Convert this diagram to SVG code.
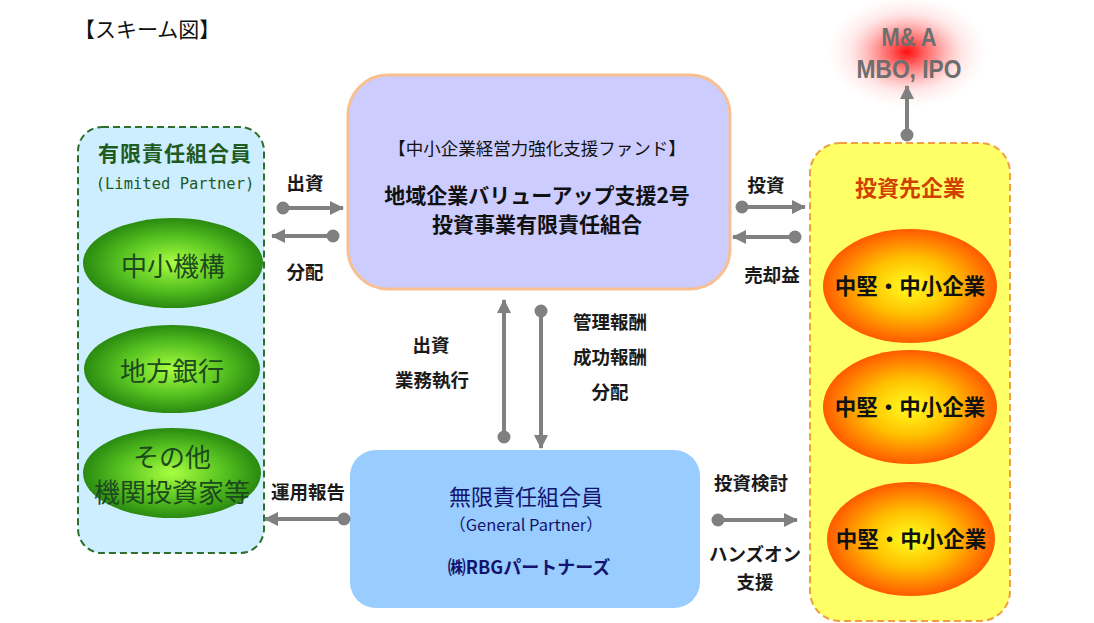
<svg xmlns="http://www.w3.org/2000/svg" width="1094" height="623" viewBox="0 0 1094 623">
<defs>
<style>
.jp{font-family:"Noto Sans CJK JP","Noto Sans",sans-serif}
.lbl{font-family:"Noto Sans CJK JP",sans-serif;font-size:18.5px;font-weight:bold;fill:#1a1a1a;text-anchor:middle}
.con{stroke:#808080;stroke-width:4;fill:none}
.g{font-family:"Noto Sans CJK JP",sans-serif;font-size:26px;fill:#1d4a1d;text-anchor:middle}
.o{font-family:"Noto Sans CJK JP",sans-serif;font-size:21.5px;font-weight:bold;fill:#111;text-anchor:middle}
.n{font-family:"Noto Sans CJK JP",sans-serif;fill:#14146e;text-anchor:middle}
</style>
<marker id="ah" markerUnits="userSpaceOnUse" markerWidth="16" markerHeight="14" refX="13" refY="7" orient="auto">
<path d="M0,0 L14,7 L0,14 Z" fill="#808080"/>
</marker>
<marker id="dot" markerUnits="userSpaceOnUse" markerWidth="14" markerHeight="14" refX="7" refY="7">
<circle cx="7" cy="7" r="6.5" fill="#808080"/>
</marker>
<radialGradient id="gg" cx="50%" cy="50%" r="50%">
<stop offset="0" stop-color="#a8ff40"/>
<stop offset="0.6" stop-color="#55c020"/>
<stop offset="1" stop-color="#2a8a10"/>
</radialGradient>
<radialGradient id="og" cx="50%" cy="50%" r="50%">
<stop offset="0" stop-color="#ffff20"/>
<stop offset="0.5" stop-color="#ffc000"/>
<stop offset="1" stop-color="#ff5a00"/>
</radialGradient>
<radialGradient id="glow" cx="50%" cy="50%" r="50%">
<stop offset="0" stop-color="#ff0000" stop-opacity="0.95"/>
<stop offset="0.35" stop-color="#ff3030" stop-opacity="0.55"/>
<stop offset="0.7" stop-color="#ff8080" stop-opacity="0.18"/>
<stop offset="1" stop-color="#ffb0b0" stop-opacity="0"/>
</radialGradient>
</defs>
<rect width="1094" height="623" fill="#ffffff"/>

<text x="74" y="37" class="jp" font-size="21" fill="#111">【スキーム図】</text>

<g id="lp">
<rect x="78" y="127" width="186" height="426" rx="24" fill="#cdeeff" stroke="#2e6e2e" stroke-width="2" stroke-dasharray="7,4"/>
<text x="175" y="161" class="jp" font-size="21" font-weight="bold" fill="#1f5a1f" text-anchor="middle" letter-spacing="1">有限責任組合員</text>
<text x="175" y="189" font-family="DejaVu Sans Mono,monospace" font-size="15.5" fill="#1f5a1f" text-anchor="middle">(Limited Partner)</text>
</g>
<g id="smrj">
<ellipse cx="173" cy="263" rx="90" ry="45" fill="url(#gg)"/>
<text x="173" y="276" class="g">中小機構</text>
</g>
<g id="bank">
<ellipse cx="172" cy="369" rx="88" ry="44" fill="url(#gg)"/>
<text x="172" y="381" class="g">地方銀行</text>
</g>
<g id="other">
<ellipse cx="172" cy="473" rx="89" ry="45" fill="url(#gg)"/>
<text x="172" y="467" class="g" font-size="24">その他</text>
<text x="172" y="502" class="g" font-size="24">機関投資家等</text>
</g>

<g id="fund">
<rect x="348" y="75" width="382" height="214" rx="40" fill="#ccccff" stroke="#f8c090" stroke-width="3"/>
<text x="537" y="155" class="jp" font-size="17.5" fill="#111" text-anchor="middle">【中小企業経営力強化支援ファンド】</text>
<text x="537" y="203" class="jp" font-size="21" font-weight="bold" fill="#111" text-anchor="middle">地域企業バリューアップ支援2号</text>
<text x="537" y="232" class="jp" font-size="21" font-weight="bold" fill="#111" text-anchor="middle">投資事業有限責任組合</text>
</g>

<g id="gp">
<rect x="350" y="450" width="350" height="158" rx="26" fill="#99ccff"/>
<text x="526" y="505" class="n" font-size="22">無限責任組合員</text>
<text x="526" y="531" class="n" font-size="16.5">（General Partner）</text>
<text x="529" y="574" class="n" font-size="18" font-weight="bold">㈱RBGパートナーズ</text>
</g>

<g id="pc">
<rect x="810" y="143" width="200" height="478" rx="30" fill="#ffff66" stroke="#f0a040" stroke-width="2" stroke-dasharray="7,4"/>
<text x="910" y="196" class="jp" font-size="22" font-weight="bold" fill="#d04000" text-anchor="middle">投資先企業</text>
</g>
<g id="c1">
<ellipse cx="910" cy="286" rx="87" ry="57" fill="url(#og)"/>
<text x="910" y="294" class="o">中堅・中小企業</text>
</g>
<g id="c2">
<ellipse cx="910" cy="407" rx="87" ry="57" fill="url(#og)"/>
<text x="910" y="415" class="o">中堅・中小企業</text>
</g>
<g id="c3">
<ellipse cx="911" cy="539" rx="84" ry="57" fill="url(#og)"/>
<text x="911" y="547" class="o">中堅・中小企業</text>
</g>

<g id="exit">
<ellipse cx="907" cy="52" rx="80" ry="56" fill="url(#glow)"/>
<text x="909" y="46" font-family="Liberation Sans,sans-serif" font-size="25" font-weight="bold" fill="#6e6e6e" text-anchor="middle" textLength="55" lengthAdjust="spacingAndGlyphs">M&amp; A</text>
<text x="909" y="78" font-family="Liberation Sans,sans-serif" font-size="25" font-weight="bold" fill="#6e6e6e" text-anchor="middle" textLength="105" lengthAdjust="spacingAndGlyphs">MBO, IPO</text>
</g>

<g id="connectors">
<line class="con" x1="907" y1="135" x2="907" y2="86" marker-start="url(#dot)" marker-end="url(#ah)"/>
<line class="con" x1="283" y1="208" x2="343" y2="208" marker-start="url(#dot)" marker-end="url(#ah)"/>
<line class="con" x1="333" y1="236" x2="272" y2="236" marker-start="url(#dot)" marker-end="url(#ah)"/>
<line class="con" x1="742" y1="207" x2="805" y2="207" marker-start="url(#dot)" marker-end="url(#ah)"/>
<line class="con" x1="795" y1="237" x2="733" y2="237" marker-start="url(#dot)" marker-end="url(#ah)"/>
<line class="con" x1="504" y1="437" x2="504" y2="300" marker-start="url(#dot)" marker-end="url(#ah)"/>
<line class="con" x1="541" y1="311" x2="541" y2="448" marker-start="url(#dot)" marker-end="url(#ah)"/>
<line class="con" x1="344" y1="519" x2="265" y2="519" marker-start="url(#dot)" marker-end="url(#ah)"/>
<line class="con" x1="718" y1="520" x2="797" y2="520" marker-start="url(#dot)" marker-end="url(#ah)"/>
<text x="305" y="190" class="lbl">出資</text>
<text x="305" y="279" class="lbl">分配</text>
<text x="766" y="192" class="lbl">投資</text>
<text x="772" y="282" class="lbl">売却益</text>
<text x="431" y="352" class="lbl">出資</text>
<text x="432" y="387" class="lbl">業務執行</text>
<text x="610" y="329" class="lbl">管理報酬</text>
<text x="610" y="364" class="lbl">成功報酬</text>
<text x="610" y="399" class="lbl">分配</text>
<text x="308" y="499" class="lbl">運用報告</text>
<text x="751" y="490" class="lbl">投資検討</text>
<text x="755" y="561" class="lbl" font-size="18">ハンズオン</text>
<text x="755" y="589" class="lbl" font-size="18">支援</text>
</g>
</svg>
